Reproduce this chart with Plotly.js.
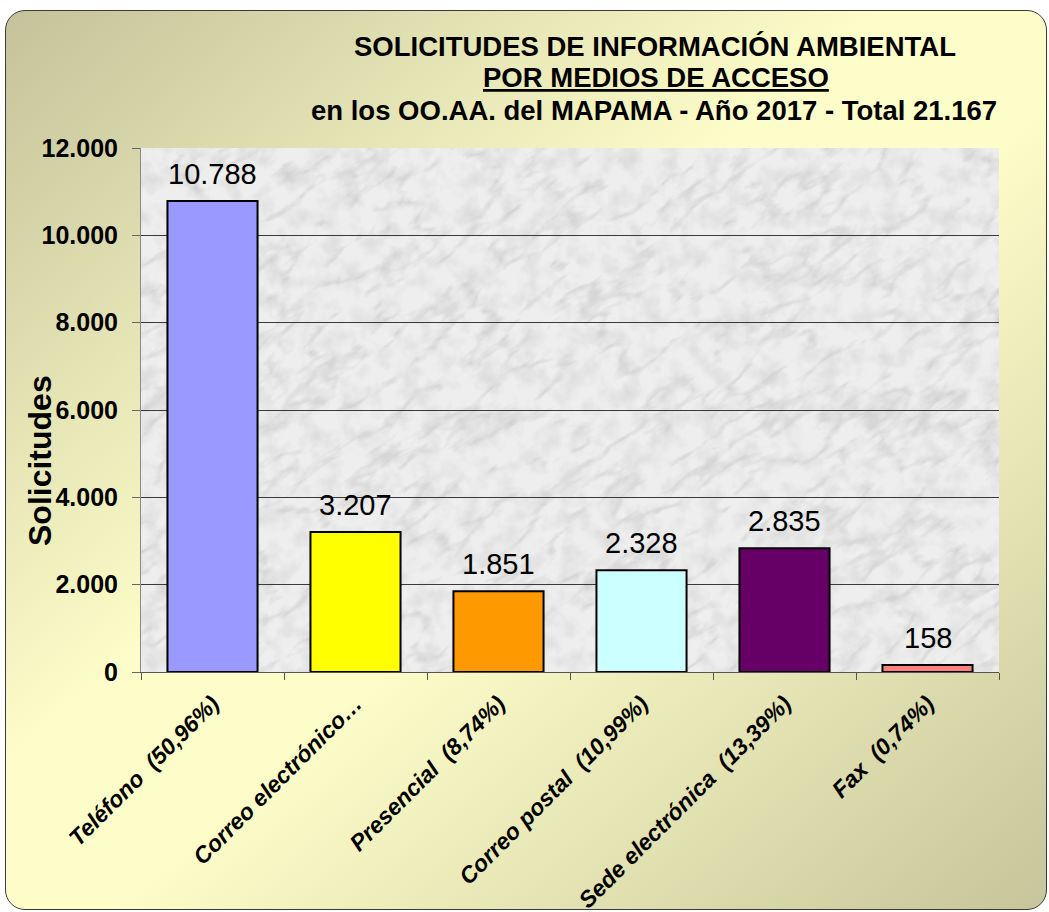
<!DOCTYPE html>
<html>
<head>
<meta charset="utf-8">
<script src="https://cdn.plot.ly/plotly-3.0.1.min.js"></script>
<style>
  html, body { margin: 0; padding: 0; background: #ffffff; }
  #frame {
    position: absolute; left: 5px; top: 10px; width: 1040px; height: 898px;
    border: 1.5px solid #3a3a3a; border-radius: 20px;
    background: linear-gradient(to bottom right, #c3c29a 0%, #fdfdc9 42%, #fdfdc9 55%, #c6c59b 100%);
  }
  #chart { position: absolute; left: 0; top: 0; width: 1049px; height: 912px; }
</style>
</head>
<body>
<div id="frame"></div>
<div id="chart"></div>
<script>
const categories = ["Teléfono  (50,96%)", "Correo electrónico…", "Presencial  (8,74%)", "Correo postal  (10,99%)", "Sede electrónica  (13,39%)", "Fax  (0,74%)"];
const solicitudes = [10788, 3207, 1851, 2328, 2835, 158];
const barColors = ["#9999FF", "#FFFF00", "#FF9900", "#CCFFFF", "#660066", "#FF8080"];
const yTicks = [0, 2000, 4000, 6000, 8000, 10000, 12000];
const titleLines = ["SOLICITUDES DE INFORMACIÓN AMBIENTAL", "<u>POR MEDIOS DE ACCESO</u>", "en los OO.AA. del MAPAMA - Año 2017 - Total 21.167"];
const yTitle = "Solicitudes";

const W = 1049, H = 912;
const M = {l: 141, r: 50, t: 148, b: 240};
const pw = W - M.l - M.r, ph = H - M.t - M.b;
const px = x => (x - M.l) / pw;
const py = y => 1 - (y - M.t) / ph;

const FONT = "Liberation Sans, Arial, sans-serif";

// marble-like background texture for the plotting area
const marble = `<svg xmlns="http://www.w3.org/2000/svg" width="858" height="524" viewBox="0 0 858 524">
<filter id="v" x="0" y="0" width="100%" height="100%">
<feTurbulence type="turbulence" baseFrequency="0.012 0.03" numOctaves="4" seed="7"/>
<feColorMatrix type="matrix" values="0 0 0 0 0.38  0 0 0 0 0.38  0 0 0 0 0.38  -1.5 0 0 0 0.34"/>
</filter>
<filter id="n" x="0" y="0" width="100%" height="100%">
<feTurbulence type="fractalNoise" baseFrequency="0.05" numOctaves="3" seed="2"/>
<feColorMatrix type="matrix" values="0 0 0 0 0.55  0 0 0 0 0.55  0 0 0 0 0.55  0.9 0 0 0 -0.37"/>
</filter>
<rect width="858" height="524" fill="#eeeeee"/>
<g transform="rotate(-35 429 262)"><rect x="-300" y="-400" width="1460" height="1320" filter="url(#v)"/></g>
<rect width="858" height="524" filter="url(#n)"/>
</svg>`;

const trace = {
  type: "bar",
  x: categories,
  y: solicitudes,
  width: 0.63,
  marker: {color: barColors, line: {color: "#000000", width: 2}},
  hoverinfo: "none"
};

const annotations = [
  {text: "<b>" + titleLines[0] + "</b>", x: px(655), y: py(47)},
  {text: "<b>" + titleLines[1] + "</b>", x: px(656), y: py(78)},
  {text: "<b>" + titleLines[2] + "</b>", x: px(654), y: py(110)}
].map(a => Object.assign(a, {xref: "paper", yref: "paper", xanchor: "center", yanchor: "middle", showarrow: false, font: {family: FONT, size: 27.5, color: "#000000"}}));

annotations.push({
  text: "<b>" + yTitle + "</b>", xref: "paper", yref: "paper", x: px(40), y: py(461),
  xanchor: "center", yanchor: "middle", textangle: -90, showarrow: false,
  font: {family: FONT, size: 32, color: "#000000"}
});

// value labels above bars, positioned through the axes
categories.forEach((c, i) => {
  annotations.push({
    x: c, y: solicitudes[i], xref: "x", yref: "y",
    text: solicitudes[i].toLocaleString("de-DE"),
    xanchor: "center", yanchor: "bottom", yshift: 9, showarrow: false,
    font: {family: FONT, size: 29, color: "#000000"}
  });
});

const layout = {
  width: W, height: H,
  margin: M,
  paper_bgcolor: "rgba(0,0,0,0)",
  plot_bgcolor: "#e8e8e8",
  separators: ",.",
  showlegend: false,
  images: [{
    source: "data:image/svg+xml;charset=utf-8," + encodeURIComponent(marble),
    xref: "paper", yref: "paper", x: 0, y: 1, sizex: 1, sizey: 1,
    sizing: "stretch", xanchor: "left", yanchor: "top", layer: "below"
  }],
  xaxis: {
    type: "category",
    tickson: "boundaries",
    ticks: "outside", ticklen: 7, tickcolor: "#555555", tickwidth: 1,
    ticklabelstandoff: 8,
    showline: true, linecolor: "#555555", linewidth: 1,
    showgrid: false,
    tickangle: -45,
    tickfont: {family: FONT, size: 23, weight: "bold", style: "italic", color: "#000000"}
  },
  yaxis: {
    range: [0, 12000],
    tickvals: yTicks,
    tickformat: ",",
    ticks: "outside", ticklen: 8, tickcolor: "#666666", tickwidth: 1,
    ticklabelstandoff: 9,
    showline: true, linecolor: "#888888", linewidth: 1,
    showgrid: true, gridcolor: "#3a3a3a", gridwidth: 1,
    zeroline: false,
    tickfont: {family: FONT, size: 25, weight: "bold", color: "#000000"}
  },
  annotations: annotations
};

Plotly.newPlot("chart", [trace], layout, {displayModeBar: false, staticPlot: true});
</script>
</body>
</html>
